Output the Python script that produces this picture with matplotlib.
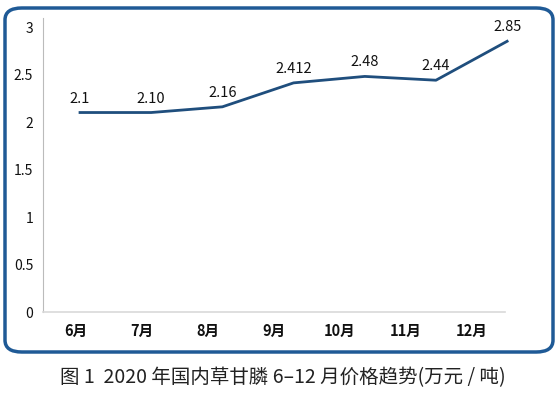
import matplotlib.pyplot as plt
from matplotlib.patches import FancyBboxPatch

plt.rcParams['font.family'] = ['Noto Sans CJK SC', 'DejaVu Sans']

months = ['6月', '7月', '8月', '9月', '10月', '11月', '12月']
prices = [2.1, 2.1, 2.16, 2.412, 2.48, 2.44, 2.85]
labels = ['2.1', '2.10', '2.16', '2.412', '2.48', '2.44', '2.85']
y_ticks = [0, 0.5, 1, 1.5, 2, 2.5, 3]
y_tick_labels = ['0', '0.5', '1', '1.5', '2', '2.5', '3']

fig = plt.figure(figsize=(5.6, 3.96), dpi=100)

# rounded frame around the chart
frame = FancyBboxPatch((5 / 560, 1 - 352 / 396), 548 / 560, 344 / 396,
                       boxstyle='round,pad=0,rounding_size=0.03',
                       transform=fig.transFigure, facecolor='none',
                       edgecolor='#1f5a96', linewidth=2.5)
fig.patches.append(frame)

ax = fig.add_axes([43 / 560, 1 - 312 / 396, 462 / 560, 294 / 396])
ax.patch.set_alpha(0)

x = list(range(len(prices)))
ax.plot(x, prices, color='#1f4e7d', linewidth=2, clip_on=False)
for xi, yi, lab in zip(x, prices, labels):
    ax.annotate(lab, (xi, yi), xytext=(0, 5), textcoords='offset points',
                ha='center', va='bottom', fontsize=10.5, color='#111111',
                annotation_clip=False)

ax.set_xlim(-0.52, 5.97)
ax.set_ylim(0, 3.095)
ax.set_xticks([])
ax.set_yticks(y_ticks)
ax.set_yticklabels(y_tick_labels, fontsize=10, color='#111111')
ax.tick_params(axis='y', length=0, pad=7)

for side in ['top', 'right']:
    ax.spines[side].set_visible(False)
ax.spines['left'].set_color('#bbbbbb')
ax.spines['bottom'].set_color('#d9d9d9')
ax.spines['bottom'].set_linewidth(1.2)

# category labels sit at Excel-style category centres
ax2 = ax.twiny()
ax2.set_xlim(-0.5, len(months) - 0.5)
ax2.xaxis.set_ticks_position('bottom')
ax2.set_xticks(range(len(months)))
ax2.set_xticklabels(months, fontsize=10.5, fontweight='bold', fontstyle='italic',
                    color='#111111')
ax2.tick_params(axis='x', length=0, pad=8)
for side in ['top', 'right', 'left', 'bottom']:
    ax2.spines[side].set_visible(False)

fig.text(0.505, 1 - 378 / 396, '图 1  2020 年国内草甘膦 6–12 月价格趋势(万元 / 吨)',
         ha='center', va='center', fontsize=14, color='#222222')

fig.savefig('out.png', dpi=100)
